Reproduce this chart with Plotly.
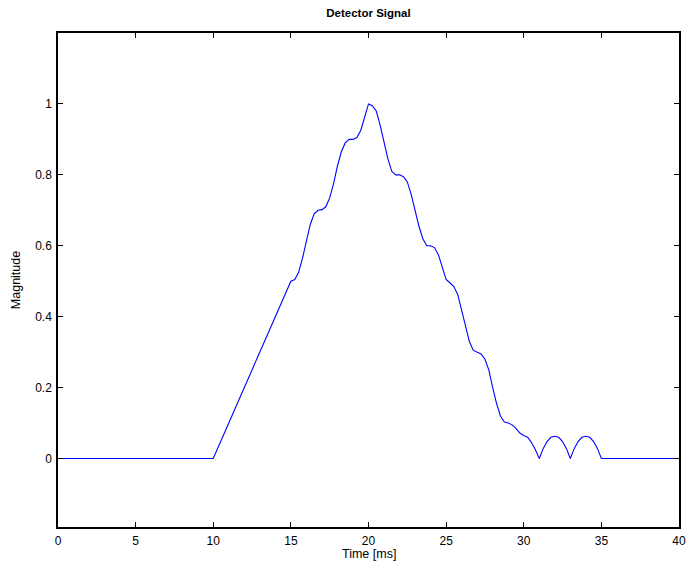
import plotly.graph_objects as go

# Time samples [ms] and magnitude
t = [0, 10, 11, 12, 13, 14, 14.75, 15.0, 15.25, 15.5, 15.75, 16.0, 16.25, 16.5, 16.75, 17.0, 17.25,
     17.5, 17.75, 18.0, 18.25, 18.5, 18.75, 19.0, 19.25, 19.5, 19.75, 20.0, 20.25, 20.5,
     20.75, 21.0, 21.25, 21.5, 21.75, 22.0, 22.25, 22.5, 22.75, 23.0, 23.25, 23.5, 23.75,
     24.0, 24.25, 24.5, 24.75, 25.0, 25.25, 25.5, 25.75, 26.0, 26.25, 26.5, 26.75, 27.0,
     27.25, 27.5, 27.75, 28.0, 28.25, 28.5, 28.75, 29.0, 29.25, 29.5, 29.75, 30.0, 30.25,
     30.5, 30.75, 31.0, 31.25, 31.5, 31.75, 32.0, 32.25, 32.5, 32.75, 33.0, 33.25, 33.5,
     33.75, 34.0, 34.25, 34.5, 34.75, 35.0, 40]
magnitude = [0, 0, 0.1, 0.2, 0.3, 0.4, 0.475, 0.500, 0.505, 0.525, 0.565, 0.615, 0.66, 0.69, 0.700, 0.702, 0.71,
             0.735, 0.775, 0.825, 0.865, 0.89, 0.90, 0.90, 0.905, 0.925, 0.965, 1.0, 0.995, 0.98,
             0.94, 0.89, 0.845, 0.81, 0.80, 0.80, 0.795, 0.78, 0.745, 0.70, 0.655, 0.62, 0.60,
             0.60, 0.595, 0.575, 0.54, 0.505, 0.495, 0.485, 0.462, 0.42, 0.37, 0.33, 0.305, 0.30,
             0.295, 0.28, 0.25, 0.20, 0.155, 0.12, 0.103, 0.10, 0.095, 0.085, 0.072, 0.065, 0.06,
             0.045, 0.025, 0.0, 0.028, 0.048, 0.060, 0.063, 0.060, 0.048, 0.028, 0.0, 0.028, 0.048,
             0.060, 0.063, 0.060, 0.048, 0.028, 0.0, 0]

x_ticks = [0, 5, 10, 15, 20, 25, 30, 35, 40]
y_ticks = [0, 0.2, 0.4, 0.6, 0.8, 1]
y_tick_labels = ["0", "0.2", "0.4", "0.6", "0.8", "1"]

FONT = "Liberation Sans, Arial, sans-serif"

fig = go.Figure()
fig.add_trace(go.Scatter(x=t, y=magnitude, mode="lines",
                         line=dict(color="#0000FF", width=1.1), showlegend=False))

axis_common = dict(showline=True, linecolor="black", linewidth=1.5, mirror="ticks",
                   ticks="inside", ticklen=5, tickcolor="black", tickwidth=1,
                   showgrid=False, zeroline=False, automargin=False,
                   tickfont=dict(family=FONT, size=12, color="black"))

fig.update_layout(
    width=692, height=566,
    paper_bgcolor="white", plot_bgcolor="white",
    margin=dict(l=58, r=13, t=33, b=39),
    title=dict(text="<b>Detector Signal</b>", x=0.5325, xanchor="center", y=0.977, yanchor="middle",
               font=dict(family=FONT, size=11.5, color="black")),
    xaxis=dict(range=[0, 40], tickvals=x_ticks, ticklabelstandoff=2, **axis_common),
    yaxis=dict(range=[-0.193, 1.2], tickvals=y_ticks, ticktext=y_tick_labels, ticklabelstandoff=2,
               title=dict(text="Magnitude", standoff=12,
                          font=dict(family=FONT, size=12.5, color="black")), **axis_common),
    annotations=[dict(text="Time [ms]", xref="paper", yref="paper", x=0.5, y=0,
                      xanchor="center", yanchor="middle", yshift=-27, showarrow=False,
                      font=dict(family=FONT, size=12.5, color="black"))],
)

fig.write_html("out.html")
